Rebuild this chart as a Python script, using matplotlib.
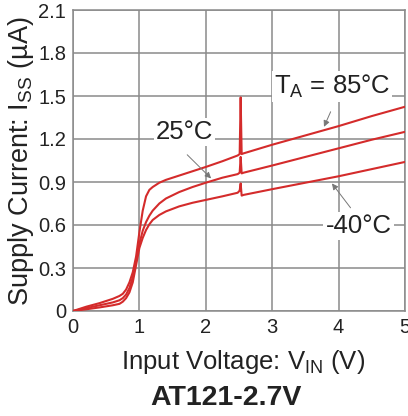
import matplotlib
matplotlib.use("Agg")
import matplotlib.pyplot as plt

plt.rcParams['font.family'] = ['Liberation Sans', 'DejaVu Sans']
plt.rcParams['mathtext.default'] = 'regular'

# input voltage (V)
vin = [0, 0.2, 0.4, 0.6, 0.7, 0.75, 0.8, 0.85, 0.9, 0.95, 1.0, 1.05, 1.1, 1.15, 1.2,
       1.3, 1.4, 1.6, 1.8, 2.0, 2.25, 2.48, 2.51, 2.525, 2.54, 2.57,
       3.0, 3.5, 4.0, 4.5, 5.0]
# supply current (uA) per ambient temperature
iss_85 = [0, 0.03, 0.055, 0.085, 0.105, 0.12, 0.15, 0.20, 0.27, 0.38, 0.55, 0.70, 0.80, 0.845, 0.865,
          0.895, 0.915, 0.945, 0.975, 1.005, 1.045, 1.085, 1.095, 1.49, 1.095, 1.10,
          1.16, 1.225, 1.29, 1.36, 1.425]
iss_25 = [0, 0.02, 0.04, 0.06, 0.075, 0.09, 0.115, 0.16, 0.235, 0.35, 0.47, 0.56, 0.62, 0.665, 0.70,
          0.75, 0.785, 0.83, 0.865, 0.895, 0.93, 0.955, 0.965, 1.075, 0.96, 0.965,
          1.015, 1.075, 1.135, 1.195, 1.25]
iss_m40 = [0, 0.012, 0.025, 0.04, 0.05, 0.065, 0.09, 0.13, 0.20, 0.32, 0.44, 0.51, 0.565, 0.605, 0.635,
           0.67, 0.695, 0.73, 0.755, 0.775, 0.80, 0.825, 0.84, 0.89, 0.805, 0.81,
           0.85, 0.895, 0.94, 0.99, 1.04]

yticks = [0, 0.3, 0.6, 0.9, 1.2, 1.5, 1.8, 2.1]
ytick_labels = ['0', '0.3', '0.6', '0.9', '1.2', '1.5', '1.8', '2.1']
xticks = [0, 1, 2, 3, 4, 5]

red = '#d42b2b'
grid = '#8a8a8a'
txt = '#222222'

fig = plt.figure(figsize=(4.08, 4.16), dpi=100)
ax = fig.add_axes([73 / 408, 105 / 416, 332 / 408, 301 / 416])

for ys in (iss_85, iss_25, iss_m40):
    ax.plot(vin, ys, color=red, lw=1.5, zorder=3)

ax.set_xlim(0, 5)
ax.set_ylim(0, 2.1)
ax.set_xticks(xticks)
ax.set_yticks(yticks)
ax.set_yticklabels(ytick_labels)
ax.tick_params(length=0, labelsize=14.5, colors=txt, pad=5)
ax.grid(True, color=grid, lw=1.1)
for s in ax.spines.values():
    s.set_color(grid)
    s.set_linewidth(1.1)

box = dict(facecolor='white', edgecolor='none', pad=1.5)
arrow = dict(arrowstyle='-|>', color='#777777', lw=0.7, mutation_scale=9, shrinkA=0, shrinkB=0)

ax.text(3.9, 1.565, 'T$_A$ = 85°C', fontsize=18.5, color=txt, ha='center', va='center', bbox=box, zorder=4)
ax.annotate('', xy=(3.78, 1.285), xytext=(3.88, 1.39), arrowprops=arrow, zorder=4)

ax.text(1.68, 1.25, '25°C', fontsize=18.5, color=txt, ha='center', va='center', bbox=box, zorder=4)
ax.annotate('', xy=(2.08, 0.925), xytext=(1.72, 1.09), arrowprops=arrow, zorder=4)

ax.text(4.3, 0.59, '-40°C', fontsize=18.5, color=txt, ha='center', va='center', bbox=box, zorder=4)
ax.annotate('', xy=(3.9, 0.89), xytext=(4.18, 0.72), arrowprops=arrow, zorder=4)

fig.text(21 / 408, 1 - 161 / 416, 'Supply Current: I$_{SS}$ (µA)', rotation=90,
         fontsize=19.5, color=txt, ha='center', va='center')
fig.text(243 / 408, 1 - 362 / 416, 'Input Voltage: V$_{IN}$ (V)',
         fontsize=18.5, color=txt, ha='center', va='center')
fig.text(226 / 408, 1 - 398 / 416, 'AT121-2.7V', fontsize=20.5, fontweight='bold',
         color=txt, ha='center', va='center')

fig.savefig('out.png', dpi=100)
